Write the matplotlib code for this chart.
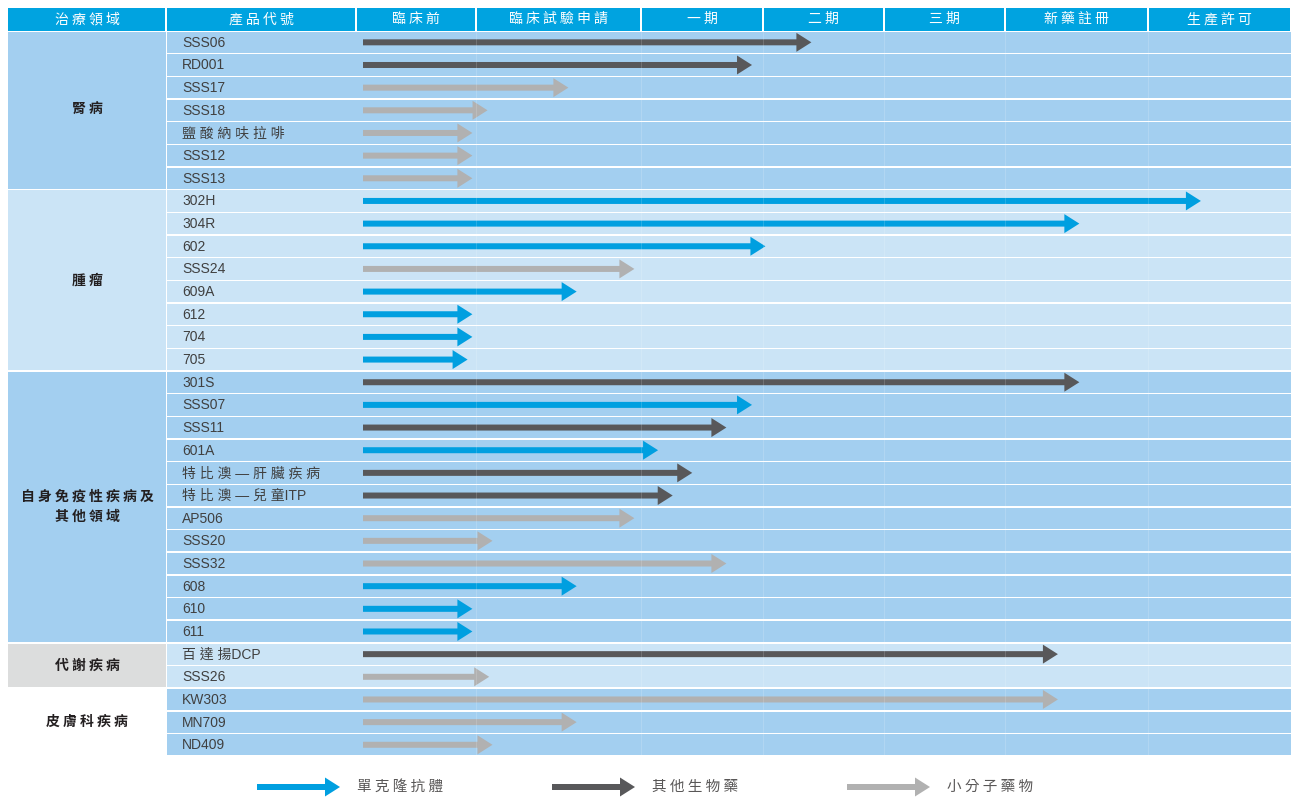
import numpy as np
import matplotlib.pyplot as plt
from matplotlib.patches import Rectangle, FancyArrow

plt.rcParams['font.family'] = ['Noto Sans CJK TC', 'DejaVu Sans']

# ---- data ----
areas = ['腎病', '腫瘤', '自身免疫性疾病及\n其他領域', '代謝疾病', '皮膚科疾病']
area_sizes = [7, 8, 12, 2, 3]
stages = ['臨床前', '臨床試驗申請', '一期', '二期', '三期', '新藥註冊', '生產許可']

products = ['SSS06', 'RD001', 'SSS17', 'SSS18', '鹽酸納呋拉啡', 'SSS12', 'SSS13',
            '302H', '304R', '602', 'SSS24', '609A', '612', '704', '705',
            '301S', 'SSS07', 'SSS11', '601A', '特比澳 — 肝臟疾病', '特比澳 — 兒童ITP',
            'AP506', 'SSS20', 'SSS32', '608', '610', '611',
            '百達揚DCP', 'SSS26',
            'KW303', 'MN709', 'ND409']
drug_types = ['bio', 'bio', 'small', 'small', 'small', 'small', 'small',
              'mab', 'mab', 'mab', 'small', 'mab', 'mab', 'mab', 'mab',
              'bio', 'mab', 'bio', 'mab', 'bio', 'bio',
              'small', 'small', 'small', 'mab', 'mab', 'mab',
              'bio', 'small',
              'small', 'small', 'small']
# progress measured in stage units (0 = start of 臨床前, 7 = end of 生產許可)
progress = [3.40, 2.91, 1.56, 1.07, 0.97, 0.97, 0.97,
            6.37, 5.52, 3.02, 1.96, 1.61, 0.97, 0.97, 0.93,
            5.52, 2.91, 2.70, 2.14, 2.42, 2.26,
            1.96, 1.10, 2.70, 1.61, 0.97, 0.97,
            5.37, 1.08,
            5.37, 1.61, 1.10]

legend_types = ['mab', 'bio', 'small']
legend_labels = ['單克隆抗體', '其他生物藥', '小分子藥物']

# ---- style ----
type_colors = {'mab': '#009fe0', 'bio': '#58585a', 'small': '#b1b1b1'}
row_colors = ['#a3cff0', '#cbe4f6', '#a3cff0', '#cbe4f6', '#a3cff0']
area_colors = ['#a3cff0', '#cbe4f6', '#a3cff0', '#dcdddd', '#ffffff']
header_color = '#00a3e0'


def is_cjk(ch):
    return ord(ch) > 0x2e80


def spaced(text, gap=' '):
    out = ''
    for i, ch in enumerate(text):
        out += ch
        if i + 1 < len(text) and is_cjk(ch) and is_cjk(text[i + 1]):
            out += gap
    return out


W, H = 1293, 800
fig = plt.figure(figsize=(W / 100, H / 100), dpi=100)
ax = fig.add_axes([0, 0, 1, 1])
ax.set_xlim(0, W)
ax.set_ylim(H, 0)
ax.axis('off')

col_edges = [8, 166, 356, 476, 641, 763, 884, 1005, 1148, 1291]
stage_edges = col_edges[2:]
header_top, header_bot = 8, 30.5
row_top, row_h = 31, 22.66
gap = 1.4
arrow_x0 = 363

# header
headers = ['治療領域', '產品代號'] + stages
for i, label in enumerate(headers):
    x0, x1 = col_edges[i], col_edges[i + 1]
    ax.add_patch(Rectangle((x0 + (0.8 if i else 0), header_top), x1 - x0 - (1.6 if i else 0.8),
                           header_bot - header_top, color=header_color, lw=0))
    ax.text((x0 + x1) / 2, (header_top + header_bot) / 2, spaced(label),
            color='white', fontsize=10, ha='center', va='center')

# rows and areas
n_rows = len(products)
row_group = np.repeat(np.arange(len(areas)), area_sizes)
for r in range(n_rows):
    y0 = row_top + r * row_h
    ax.add_patch(Rectangle((col_edges[1] + 1, y0 + gap / 2), col_edges[-1] - col_edges[1] - 1,
                           row_h - gap, color=row_colors[row_group[r]], lw=0))

# faint column lines inside rows
for xe in stage_edges[1:-1]:
    ax.vlines(xe, row_top, row_top + n_rows * row_h, color='white', lw=0.6, alpha=0.18)

start = 0
for g, (name, size) in enumerate(zip(areas, area_sizes)):
    y0 = row_top + start * row_h
    y1 = y0 + size * row_h
    ax.add_patch(Rectangle((col_edges[0], y0 + gap / 2), col_edges[1] - col_edges[0],
                           y1 - y0 - gap, color=area_colors[g], lw=0))
    lbl = '\n'.join(spaced(part) for part in name.split('\n'))
    ax.text((col_edges[0] + col_edges[1]) / 2, (y0 + y1) / 2, lbl, color='#231f20',
            fontsize=10, fontweight='bold', ha='center', va='center', linespacing=1.6)
    start += size

# product labels and arrows
for r, (prod, kind, p) in enumerate(zip(products, drug_types, progress)):
    yc = row_top + (r + 0.5) * row_h
    ax.text(182, yc + 0.5, spaced(prod), color='#404040', fontsize=10, ha='left', va='center',
            family=['Liberation Sans', 'Noto Sans CJK TC'])
    x_end = np.interp(p, np.arange(len(stage_edges)), stage_edges)
    ax.add_patch(FancyArrow(arrow_x0, yc, x_end - arrow_x0, 0, width=6, head_width=19,
                            head_length=15, length_includes_head=True,
                            color=type_colors[kind], lw=0))

# legend
leg_y = 787
for i, (kind, label) in enumerate(zip(legend_types, legend_labels)):
    lx = 257 + i * 295
    ax.add_patch(FancyArrow(lx, leg_y, 83, 0, width=6, head_width=19, head_length=15,
                            length_includes_head=True, color=type_colors[kind], lw=0))
    ax.text(lx + 100, leg_y, spaced(label), color='#595757', fontsize=10.5,
            ha='left', va='center')

fig.savefig('out.png', dpi=100)
